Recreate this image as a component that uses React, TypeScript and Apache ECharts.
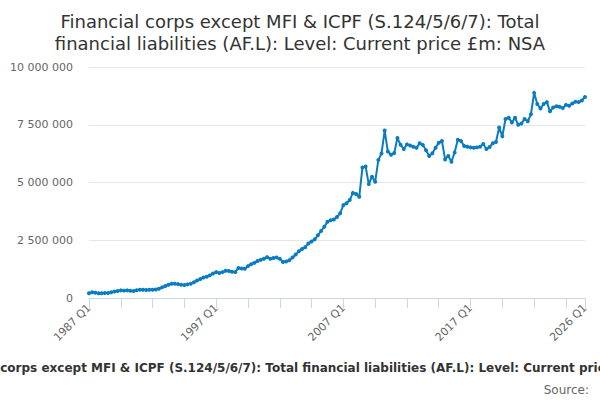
import { useRef, useEffect } from 'react';
import * as echarts from 'echarts';

// quarterly levels, £m, 1987 Q1 .. 2026 Q1
const liabilities: number[] = [
    210000, 250000, 230000, 210000,
    210000, 220000, 220000, 250000,
    280000, 300000, 330000, 320000,
    330000, 310000, 300000, 340000,
    360000, 360000, 350000, 360000,
    360000, 370000, 400000, 460000,
    520000, 570000, 620000, 620000,
    600000, 570000, 560000, 590000,
    620000, 680000, 760000, 820000,
    890000, 920000, 980000, 1060000,
    1120000, 1080000, 1120000, 1180000,
    1170000, 1140000, 1120000, 1300000,
    1280000, 1270000, 1380000, 1460000,
    1520000, 1600000, 1650000, 1700000,
    1770000, 1700000, 1730000, 1750000,
    1700000, 1560000, 1580000, 1630000,
    1750000, 1880000, 2020000, 2120000,
    2200000, 2360000, 2450000, 2540000,
    2720000, 2900000, 3080000, 3300000,
    3370000, 3400000, 3510000, 3670000,
    4020000, 4100000, 4240000, 4550000,
    4500000, 4380000, 5650000, 5690000,
    4930000, 5250000, 5030000, 5970000,
    6260000, 7250000, 6340000, 6200000,
    6280000, 6930000, 6630000, 6450000,
    6650000, 6600000, 6550000, 6500000,
    6700000, 6620000, 6400000, 6150000,
    6270000, 6500000, 6720000, 6800000,
    6000000, 6150000, 5900000, 6300000,
    6850000, 6800000, 6580000, 6550000,
    6520000, 6500000, 6520000, 6550000,
    6670000, 6450000, 6540000, 6700000,
    6750000, 7380000, 7000000, 7750000,
    7800000, 7600000, 7800000, 7500000,
    7550000, 7750000, 7650000, 7950000,
    8880000, 8400000, 8200000, 8400000,
    8480000, 8080000, 8250000, 8300000,
    8280000, 8220000, 8360000, 8320000,
    8420000, 8500000, 8480000, 8550000,
    8700000,
];

const quarters: string[] = [];
for (let i = 0; i < liabilities.length; i++) {
    quarters.push(`${1987 + Math.floor(i / 4)} Q${(i % 4) + 1}`);
}

const titleText = 'Financial corps except MFI & ICPF (S.124/5/6/7): Total\nfinancial liabilities (AF.L): Level: Current price £m: NSA';
const footerText = 'Financial corps except MFI & ICPF (S.124/5/6/7): Total financial liabilities (AF.L): Level: Current price £m: NSA';

const font = '"DejaVu Sans", sans-serif';

const withSpaces = (v: number) => String(v).replace(/\B(?=(\d{3})+(?!\d))/g, ' ');

const App: React.FC = () => {
    const chartRef = useRef<HTMLDivElement>(null);

    useEffect(() => {
        if (!chartRef.current) return;
        const chart = echarts.init(chartRef.current, undefined, { renderer: 'svg' });
        const last = quarters.length - 1;

        const option: echarts.EChartsOption = {
            animation: false,
            textStyle: { fontFamily: font },
            title: {
                text: titleText,
                left: 'center',
                top: 5,
                textStyle: {
                    fontFamily: font,
                    fontSize: 18,
                    fontWeight: 'normal',
                    color: '#333333',
                    lineHeight: 22,
                },
            },
            grid: { left: 89, right: 15, top: 67, bottom: 102 },
            xAxis: {
                type: 'category',
                boundaryGap: false,
                data: quarters,
                axisLine: { lineStyle: { color: '#ccd6eb' } },
                axisTick: {
                    length: 10,
                    interval: (index: number) => index % 10 === 0 || index === last,
                    lineStyle: { color: '#ccd6eb' },
                },
                axisLabel: {
                    interval: (index: number) => index % 40 === 0 || index === last,
                    rotate: 45,
                    color: '#666666',
                    fontSize: 11,
                    fontFamily: font,
                    margin: 8,
                },
            },
            yAxis: {
                type: 'value',
                min: 0,
                max: 10000000,
                interval: 2500000,
                axisLine: { show: false },
                axisTick: { show: false },
                splitLine: { lineStyle: { color: '#e6e6e6' } },
                axisLabel: {
                    formatter: (v: number) => withSpaces(v),
                    color: '#666666',
                    fontSize: 11,
                    fontFamily: font,
                    margin: 16,
                },
            },
            series: [
                {
                    name: 'Liabilities',
                    type: 'line',
                    data: liabilities,
                    symbol: 'circle',
                    symbolSize: 4,
                    showAllSymbol: true,
                    itemStyle: { color: '#0a7cc1' },
                    lineStyle: { color: '#0a7cc1', width: 2 },
                },
            ],
            graphic: [
                {
                    type: 'text',
                    x: 305,
                    y: 368,
                    style: {
                        text: footerText,
                        fontFamily: font,
                        fontSize: 12,
                        fontWeight: 'bold',
                        fill: '#333333',
                        textAlign: 'center',
                        textVerticalAlign: 'middle',
                    },
                },
                {
                    type: 'text',
                    x: 589,
                    y: 390,
                    style: {
                        text: 'Source:',
                        fontFamily: font,
                        fontSize: 12,
                        fill: '#666666',
                        textAlign: 'right',
                        textVerticalAlign: 'middle',
                    },
                },
            ],
        };

        chart.setOption(option);

        return () => {
            chart.dispose();
        };
    }, []);

    return <div ref={chartRef} style={{ width: '600px', height: '400px', position: 'absolute', left: 0, top: 0 }} />;
};

export default App;
